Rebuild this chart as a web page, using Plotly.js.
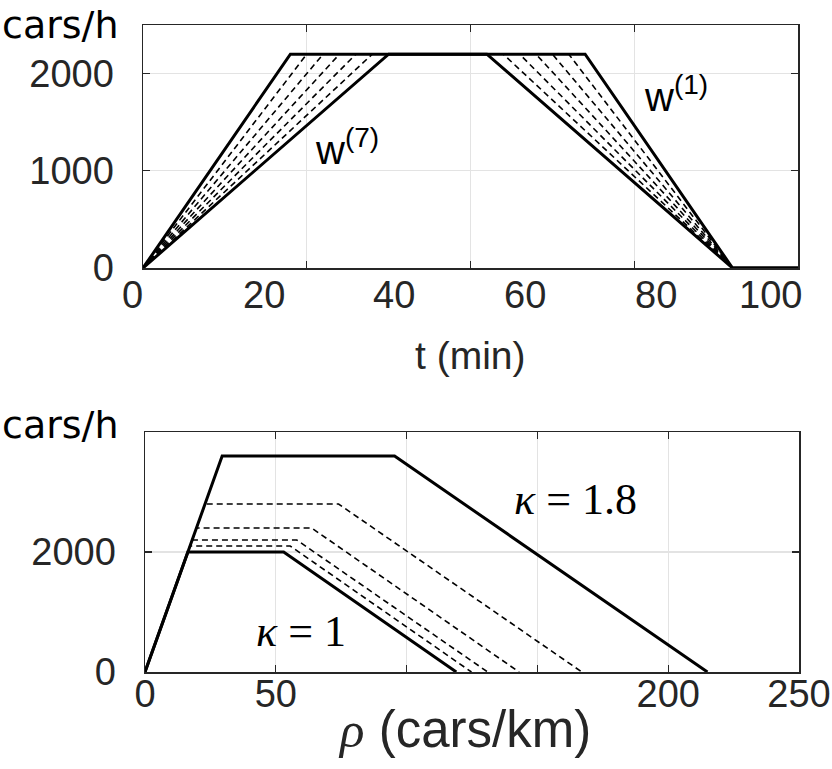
<!DOCTYPE html>
<html>
<head>
<meta charset="utf-8">
<script src="https://cdn.plot.ly/plotly-3.0.1.min.js"></script>
<style>html,body{margin:0;padding:0;background:#fff;}</style>
</head>
<body>
<div id="chart" style="width:832px;height:769px;"></div>
<script>
// ---- Top panel: inflow profiles w^(1) ... w^(7) (t in min, cars/h)
const qTop = [0, 2200, 2200, 0, 0];
const tW1 = [0, 22.5, 67.5, 90, 100];
const tW2 = [0, 25.0, 65.0, 90, 100];
const tW3 = [0, 27.5, 62.5, 90, 100];
const tW4 = [0, 30.0, 60.0, 90, 100];
const tW5 = [0, 32.5, 57.5, 90, 100];
const tW6 = [0, 35.0, 55.0, 90, 100];
const tW7 = [0, 37.5, 52.5, 90, 100];
const topTickLabels = ['0', '20', '40', '60', '80', '100'];
// pixel centres at which the reference prints those labels
const topTickLabelPx = [132, 264, 394, 525, 656, 770];

// ---- Bottom panel: fundamental diagrams for kappa values (rho in cars/km, cars/h)
const kappas = [1, 1.05, 1.1, 1.2, 1.4, 1.8];
const rhoK100 = [0, 16.4, 53.0, 119.0];
const qK100 = [0, 2000, 2000, 0];
const rhoK105 = [0, 17.2, 55.5, 124.8];
const qK105 = [0, 2100, 2100, 0];
const rhoK110 = [0, 18.0, 58.0, 131.0];
const qK110 = [0, 2200, 2200, 0];
const rhoK120 = [0, 19.7, 63.7, 143.0];
const qK120 = [0, 2400, 2400, 0];
const rhoK140 = [0, 23.0, 74.0, 167.0];
const qK140 = [0, 2800, 2800, 0];
const rhoK180 = [0, 29.5, 95.4, 215.0];
const qK180 = [0, 3600, 3600, 0];
const botTickVals = [0, 50, 100, 150, 200, 250];
const botTickText = ['0', '50', '', '', '200', '250'];

const INK = '#262626';
const GRID = '#e3e3e3';
const SANS = 'Liberation Sans, Arial, Helvetica, sans-serif';
const SERIF = 'Liberation Serif, DejaVu Serif, serif';
const TICKF = {family: SANS, size: 38, color: INK};

function line(x, y, xa, ya, solid) {
  return {
    x: x, y: y, xaxis: xa, yaxis: ya, type: 'scatter', mode: 'lines',
    line: solid ? {color: '#000', width: 3} : {color: '#000', width: 1.6, dash: '6px,4px'},
    hoverinfo: 'skip', showlegend: false
  };
}

const traces = [
  line(tW2, qTop, 'x', 'y', false),
  line(tW3, qTop, 'x', 'y', false),
  line(tW4, qTop, 'x', 'y', false),
  line(tW5, qTop, 'x', 'y', false),
  line(tW6, qTop, 'x', 'y', false),
  line(tW1, qTop, 'x', 'y', true),
  line(tW7, qTop, 'x', 'y', true),
  line(rhoK105, qK105, 'x2', 'y2', false),
  line(rhoK110, qK110, 'x2', 'y2', false),
  line(rhoK120, qK120, 'x2', 'y2', false),
  line(rhoK140, qK140, 'x2', 'y2', false),
  line(rhoK100, qK100, 'x2', 'y2', true),
  line(rhoK180, qK180, 'x2', 'y2', true)
];

const W = 832, H = 769;
const mL = 100, mR = 20, mT = 25, mB = 97;
const pw = W - mL - mR, ph = H - mT - mB;
const px2fx = p => (p - mL) / pw;
const px2fy = p => (H - mB - p) / ph;
const dx = (a, b) => [px2fx(a), px2fx(b)];
const dy = (top, bot) => [px2fy(bot), px2fy(top)];

const common = {
  ticks: 'inside', ticklen: 7, tickwidth: 1.3, tickcolor: INK,
  showline: true, linecolor: INK, linewidth: 1.5, mirror: 'allticks',
  showgrid: true, gridcolor: GRID, gridwidth: 1.2, zeroline: false,
  tickfont: TICKF, fixedrange: true
};

const annotations = [
  {xref: 'paper', yref: 'paper', x: px2fx(0), y: px2fy(25),
   xanchor: 'left', yanchor: 'middle', showarrow: false,
   text: 'cars/h', font: {family: 'DejaVu Sans, sans-serif', size: 38, color: '#000'}},
  {xref: 'paper', yref: 'paper', x: px2fx(0), y: px2fy(425),
   xanchor: 'left', yanchor: 'middle', showarrow: false,
   text: 'cars/h', font: {family: 'DejaVu Sans, sans-serif', size: 38, color: '#000'}},
  {xref: 'paper', yref: 'paper', x: px2fx(470), y: px2fy(355),
   xanchor: 'center', yanchor: 'middle', showarrow: false,
   text: 't (min)', font: {family: SANS, size: 39, color: INK}},
  {xref: 'paper', yref: 'paper', x: px2fx(465), y: px2fy(729),
   xanchor: 'center', yanchor: 'middle', showarrow: false,
   text: "<span style='font-family:Liberation Serif, serif'><i>ρ</i></span> (cars/km)",
   font: {family: SANS, size: 51, color: INK}},
  {xref: 'x', yref: 'y', x: 31.2, y: 1250, xanchor: 'center', yanchor: 'middle',
   showarrow: false, text: 'w<sup>(7)</sup>', font: {family: SANS, size: 40, color: '#000'}},
  {xref: 'x', yref: 'y', x: 81.4, y: 1790, xanchor: 'center', yanchor: 'middle',
   showarrow: false, text: 'w<sup>(1)</sup>', font: {family: SANS, size: 40, color: '#000'}},
  {xref: 'x2', yref: 'y2', x: 164.5, y: 2883, xanchor: 'center', yanchor: 'middle',
   showarrow: false, text: '<i>κ</i> = 1.8', font: {family: SERIF, size: 44, color: '#000'}},
  {xref: 'x2', yref: 'y2', x: 59.5, y: 667, xanchor: 'center', yanchor: 'middle',
   showarrow: false, text: '<i>κ</i> = 1', font: {family: SERIF, size: 44, color: '#000'}}
];
topTickLabels.forEach((txt, i) => {
  annotations.push({xref: 'paper', yref: 'paper', x: px2fx(topTickLabelPx[i]), y: px2fy(295),
    xanchor: 'center', yanchor: 'middle', showarrow: false, text: txt, font: TICKF});
});

const layout = {
  width: W, height: H,
  margin: {l: mL, r: mR, t: mT, b: mB},
  paper_bgcolor: '#fff', plot_bgcolor: 'rgba(0,0,0,0)',
  showlegend: false,
  xaxis: Object.assign({}, common, {
    domain: dx(143, 798), anchor: 'y', range: [0, 100],
    tickvals: [0, 25, 50, 75, 100], showticklabels: false
  }),
  yaxis: Object.assign({}, common, {
    domain: dy(25, 268), anchor: 'x', range: [0, 2500],
    tickvals: [0, 1000, 2000], ticktext: ['0', '1000', '2000'],
    ticklabelstandoff: 20
  }),
  xaxis2: Object.assign({}, common, {
    domain: dx(145, 799), anchor: 'y2', range: [0, 250],
    tickvals: botTickVals, ticktext: botTickText,
    ticklabelstandoff: -12
  }),
  yaxis2: Object.assign({}, common, {
    domain: dy(432, 672), anchor: 'x2', range: [0, 4000],
    tickvals: [0, 2000, 4000], ticktext: ['0', '2000', ''],
    ticklabelstandoff: 20
  }),
  annotations: annotations
};

Plotly.newPlot('chart', traces, layout, {staticPlot: true, displayModeBar: false});
</script>
</body>
</html>
